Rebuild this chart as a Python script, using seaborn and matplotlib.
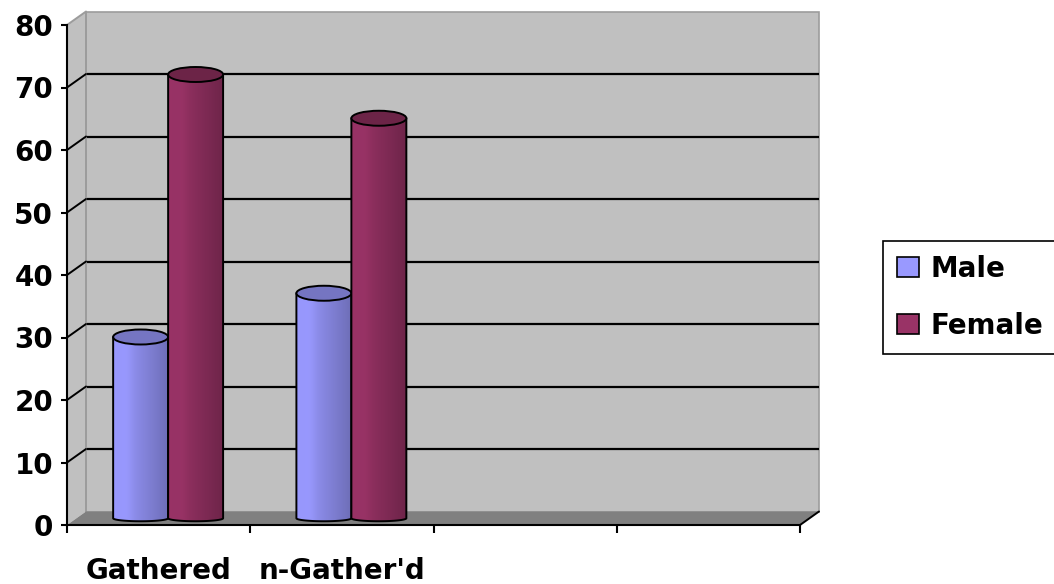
import numpy as np
import pandas as pd
import matplotlib
matplotlib.use("Agg")
import matplotlib.pyplot as plt
import seaborn as sns
from matplotlib.patches import Polygon, Ellipse, PathPatch, Patch, Rectangle
from matplotlib.path import Path
from matplotlib.colors import to_rgb

# ---- data -------------------------------------------------------------
categories = ["Gathered", "n-Gather'd", " ", "  "]
groups = ["Male", "Female"]
male = [29, 36]
female = [71, 64]
y_ticks = [0, 10, 20, 30, 40, 50, 60, 70, 80]

palette = {"Male": "#9999FF", "Female": "#993366"}
top_colors = {"Male": "#7575C2", "Female": "#6C2447"}

df = pd.DataFrame({
    "category": categories[:2] * 2,
    "group": ["Male"] * 2 + ["Female"] * 2,
    "value": male + female,
})

sns.set_style("white")
plt.rcParams["font.family"] = ["DejaVu Sans"]
plt.rcParams["font.weight"] = "bold"
plt.rcParams["text.color"] = "black"

W, H, DPI = 1054, 584, 100
fig = plt.figure(figsize=(W / DPI, H / DPI), dpi=DPI)
ax = fig.add_axes([67 / W, 59 / H, 733 / W, 500 / H])
ax.patch.set_visible(False)

sns.barplot(data=df, x="category", y="value", hue="group", order=categories,
            hue_order=groups, palette=palette, width=0.6, saturation=1,
            legend=False, ax=ax)
bars = list(ax.patches)

ax.set_xlim(-0.5, len(categories) - 0.5)
ax.set_ylim(y_ticks[0], y_ticks[-1])
ax.set_xlabel("")
ax.set_ylabel("")

# depth of the 3-D box, in data units
p0 = ax.transData.transform((0, 0))
p1 = ax.transData.transform((1, 10))
px_x = p1[0] - p0[0]
px_y = (p1[1] - p0[1]) / 10
dX = 19 / px_x
dY = 13.5 / px_y
x_lo, x_hi = -0.5, len(categories) - 0.5
y_top = y_ticks[-1]

# back wall
ax.add_patch(Rectangle((x_lo + dX, dY), x_hi - x_lo, y_top, facecolor="#C0C0C0",
                       edgecolor="#9C9C9C", lw=1.2, clip_on=False, zorder=0.3))
# gridlines on back wall
for v in y_ticks[1:-1]:
    ax.plot([x_lo + dX, x_hi + dX], [v + dY, v + dY], color="black", lw=1.6,
            clip_on=False, zorder=0.4, solid_capstyle="butt")
# left side wall
ax.add_patch(Polygon([(x_lo, 0), (x_lo + dX, dY), (x_lo + dX, y_top + dY), (x_lo, y_top)],
                     closed=True, facecolor="#C0C0C0", edgecolor="none",
                     clip_on=False, zorder=0.5))
ax.plot([x_lo + dX, x_lo + dX], [dY, y_top + dY], color="#9C9C9C", lw=1.4,
        clip_on=False, zorder=0.55)
ax.plot([x_lo, x_lo + dX], [y_top, y_top + dY], color="#9C9C9C", lw=1.4,
        clip_on=False, zorder=0.55)
for v in y_ticks[1:-1]:
    ax.plot([x_lo, x_lo + dX], [v, v + dY], color="black", lw=1.4,
            clip_on=False, zorder=0.6)
# floor
ax.add_patch(Polygon([(x_lo, 0), (x_hi, 0), (x_hi + dX, dY), (x_lo + dX, dY)],
                     closed=True, facecolor="#808080", edgecolor="none",
                     clip_on=False, zorder=0.7))
ax.plot([x_hi, x_hi + dX], [0, dY], color="black", lw=1.4, clip_on=False, zorder=0.75)

# ---- cylinders built from the seaborn bars ----------------------------
e_top = 7.5 / px_y
e_bot = 3.0 / px_y
t = np.linspace(0, 1, 256)
shade = 1.0 - 0.28 * t ** 1.2 + 0.04 * np.exp(-((t - 0.25) / 0.12) ** 2)

z = 2.0
for bar in bars:
    x0 = bar.get_x() + dX / 2
    w = bar.get_width()
    h = bar.get_height()
    if not np.isfinite(h) or h <= 0:
        bar.set_visible(False)
        continue
    base = np.array(to_rgb(bar.get_facecolor()))
    name = [k for k, c in palette.items() if np.allclose(to_rgb(c), base, atol=0.01)][0]
    yb = dY / 2
    yt = yb + h
    xc = x0 + w / 2
    bar.set_visible(False)

    th = np.linspace(np.pi, 2 * np.pi, 60)
    arc = np.column_stack([xc + w / 2 * np.cos(th), yb + e_bot * np.sin(th)])
    verts = np.vstack([[x0, yt], arc, [x0 + w, yt], [x0, yt]])
    codes = [Path.MOVETO] + [Path.LINETO] * (len(verts) - 2) + [Path.CLOSEPOLY]
    body = Path(verts, codes)

    grad = np.clip(base[None, None, :] * shade[None, :, None], 0, 1)
    clip = PathPatch(body, transform=ax.transData, facecolor="none", edgecolor="none")
    im = ax.imshow(grad, extent=(x0, x0 + w, yb - e_bot, yt), aspect="auto",
                   interpolation="bilinear", zorder=z)
    im.set_clip_path(clip)
    im.set_clip_box(None)

    outline = np.vstack([[x0, yt], arc, [x0 + w, yt]])
    ax.plot(outline[:, 0], outline[:, 1], color="black", lw=1.4, zorder=z + 0.1,
            clip_on=False)
    ax.add_patch(Ellipse((xc, yt), w, 2 * e_top, facecolor=top_colors[name],
                         edgecolor="black", lw=1.4, zorder=z + 0.2, clip_on=False))
    z += 1

ax.set_xlim(x_lo, x_hi)
ax.set_ylim(y_ticks[0], y_ticks[-1])

# ---- axes ---------------------------------------------------------------
for s in ["top", "right"]:
    ax.spines[s].set_visible(False)
for s in ["left", "bottom"]:
    ax.spines[s].set_color("black")
    ax.spines[s].set_linewidth(1.5)
    ax.spines[s].set_zorder(10)

ax.set_yticks(y_ticks)
ax.set_yticklabels([str(v) for v in y_ticks])
ax.tick_params(axis="y", length=4, width=1.5, pad=6, labelsize=20, colors="black",
               left=True)
ax.set_xticks(np.arange(len(categories) + 1) - 0.5)
ax.set_xticklabels([])
ax.set_xticks(np.arange(len(categories)), minor=True)
ax.set_xticklabels(categories, minor=True)
ax.tick_params(axis="x", which="major", length=6, width=1.5, direction="out",
               bottom=True, colors="black")
ax.tick_params(axis="x", which="minor", length=0, pad=23, labelsize=20,
               colors="black")
for lab in ax.get_xticklabels(minor=True) + ax.get_yticklabels():
    lab.set_fontweight("bold")

# ---- legend -------------------------------------------------------------
handles = [Patch(facecolor=palette[g], edgecolor="black", lw=1.2, label=g) for g in groups]
leg = fig.legend(handles=handles, loc="upper left",
                 bbox_to_anchor=(883 / W, 1 - 241 / H), borderaxespad=0,
                 prop={"weight": "bold", "size": 20}, labelcolor="black",
                 frameon=True, fancybox=False, shadow=False, framealpha=1,
                 handlelength=0.8, handleheight=0.72, handletextpad=0.4,
                 borderpad=0.5, labelspacing=1.05)
leg.get_frame().set_edgecolor("black")
leg.get_frame().set_linewidth(1.2)
leg.get_frame().set_facecolor("white")

fig.savefig("out.png", dpi=DPI, facecolor="white")
